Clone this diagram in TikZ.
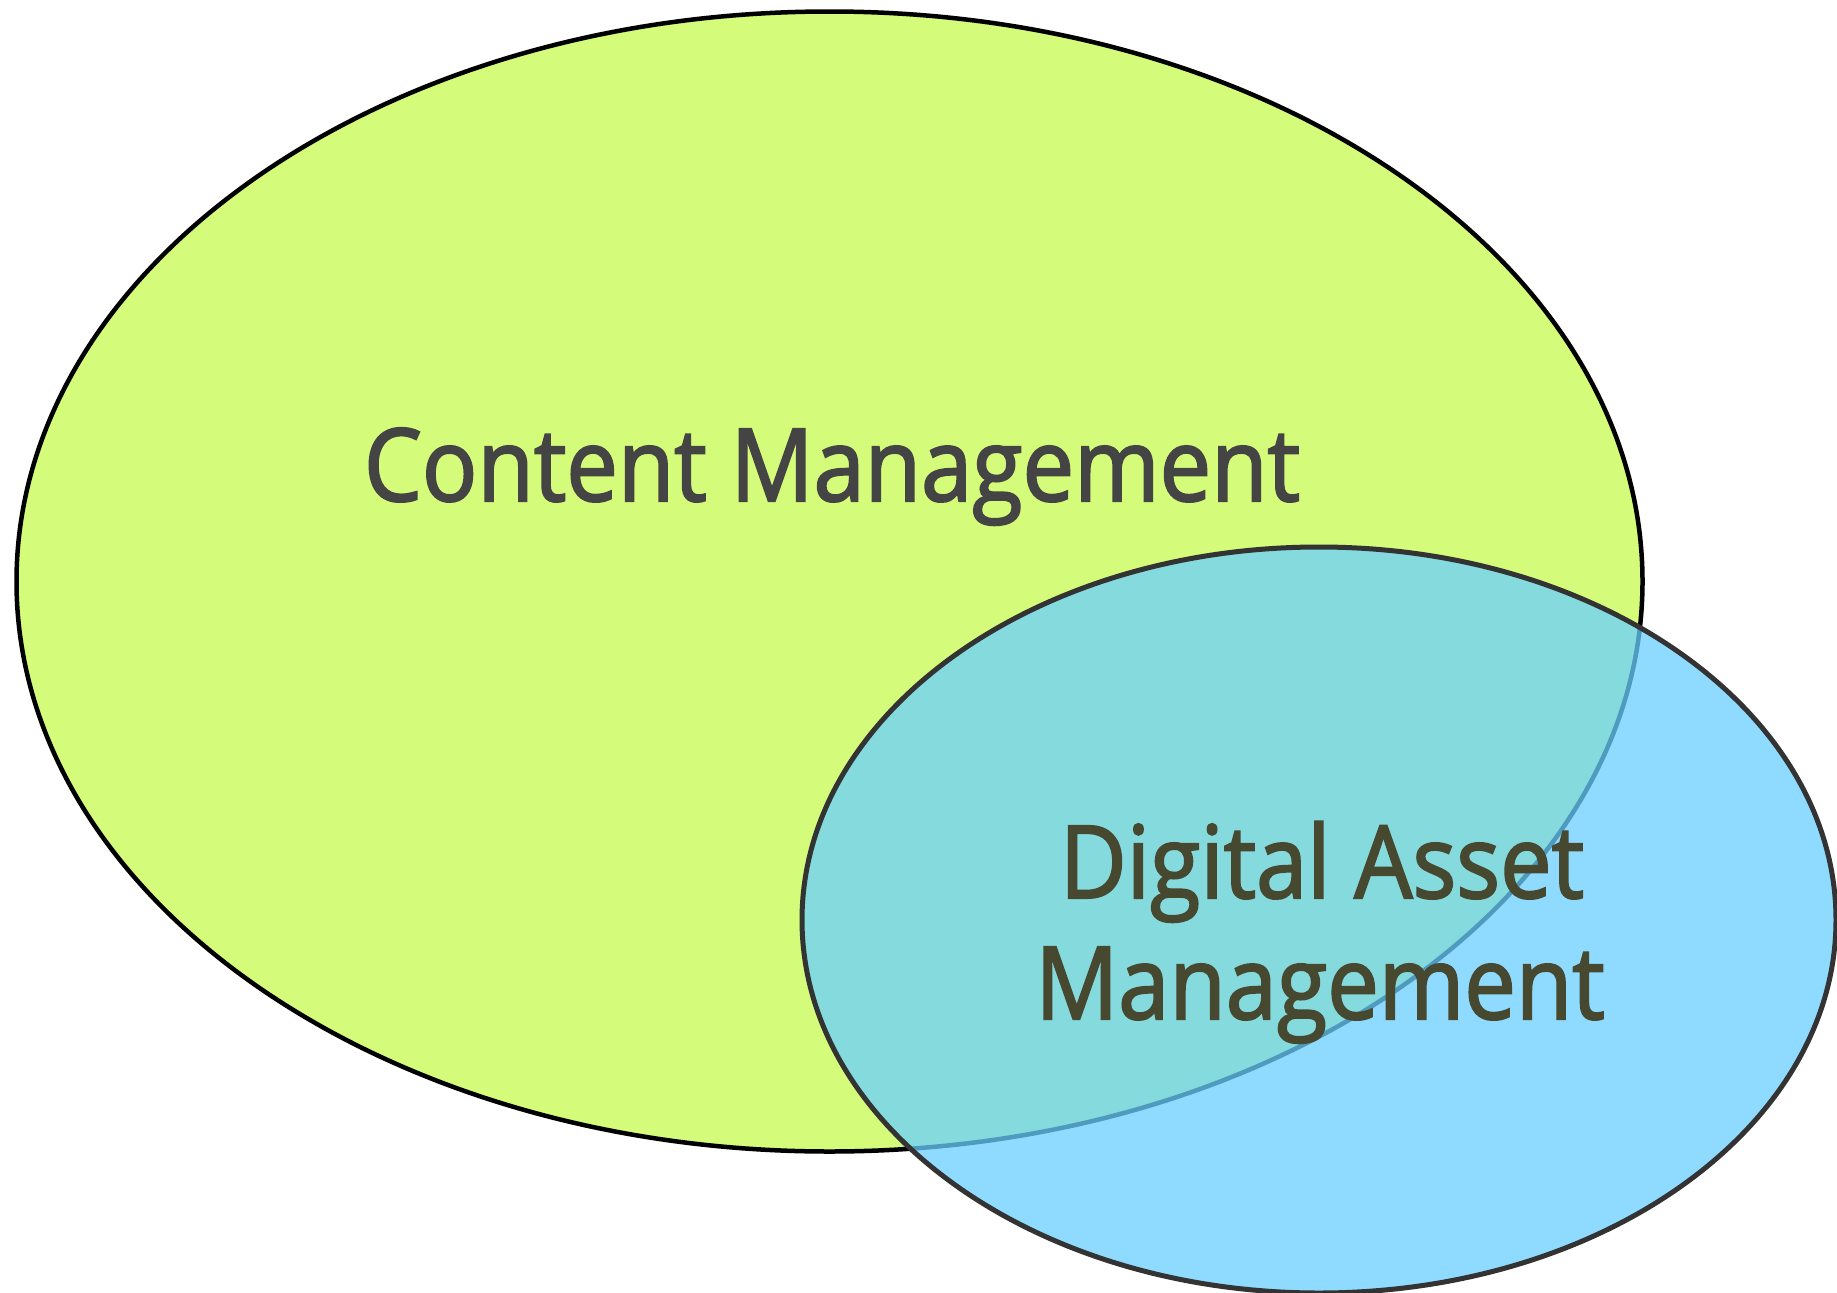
\documentclass[tikz,border=0pt]{standalone}
\usepackage{fontspec}
\setmainfont[FakeStretch=0.91, FakeBold=2]{Open Sans}
\usepackage{tikz}
\definecolor{cmColor}{RGB}{213,251,122}
\definecolor{damColor}{RGB}{106,207,255}
\definecolor{cmText}{RGB}{68,68,68}
\definecolor{damText}{RGB}{70,72,48}

\begin{document}
\begin{tikzpicture}[x=1pt,y=-1pt]

          \tikzstyle{cmArea} = [fill=cmColor, draw=black, line width=4.5pt];
          \tikzstyle{damArea} = [fill=damColor, fill opacity=0.75, draw=black!80, line width=5pt];
          \tikzstyle{bigLabel} = [anchor=base, inner sep=0pt, font=\fontsize{101}{120}\selectfont];

          \useasboundingbox (0,0) rectangle (1837,1293);

          \draw[cmArea] (829.5,581.5) ellipse [x radius=813, y radius=570];
          \draw[damArea] (1319,920) ellipse [x radius=517, y radius=373];

          \node[bigLabel, text=cmText] (cm) at (832,501) {Content Management};
          \node[bigLabel, text=damText] (dam) at (1322,898) {Digital Asset};
          \node[bigLabel, text=damText] (mgmt) at (1320,1019) {Management};
        \end{tikzpicture}
\end{document}
